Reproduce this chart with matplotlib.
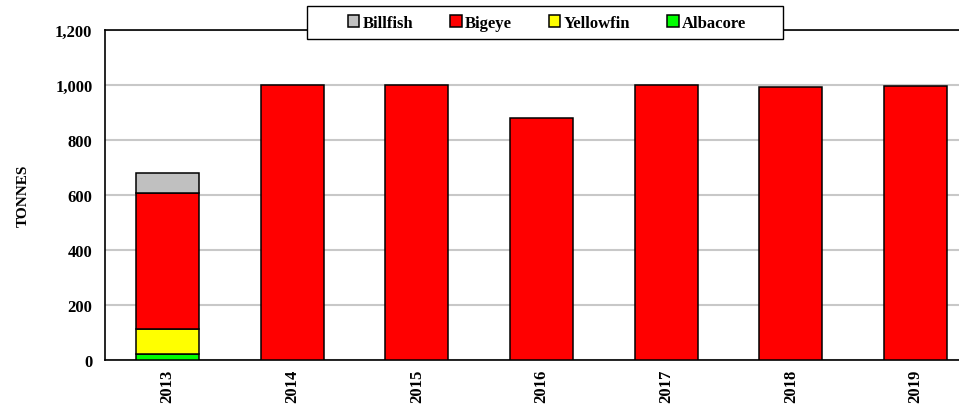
import matplotlib
matplotlib.use("Agg")
import matplotlib.pyplot as plt
from matplotlib.patches import Rectangle
import numpy as np

years = ["2013", "2014", "2015", "2016", "2017", "2018", "2019"]
albacore = [22, 0, 0, 0, 0, 0, 0]
yellowfin = [90, 0, 0, 0, 0, 0, 0]
bigeye = [496, 1000, 1000, 880, 1000, 993, 998]
billfish = [72, 0, 0, 0, 0, 0, 0]

series = [("Albacore", albacore, "#00ff00"),
          ("Yellowfin", yellowfin, "#ffff00"),
          ("Bigeye", bigeye, "#ff0000"),
          ("Billfish", billfish, "#c0c0c0")]

plt.rcParams['font.family'] = ['Liberation Serif', 'DejaVu Serif']
plt.rcParams['font.weight'] = 'bold'

fig = plt.figure(figsize=(9.59, 4.06), dpi=100)
ax = fig.add_axes([105/959, 45/406, 873/959, 330/406])

x = np.arange(len(years))
bottom = np.zeros(len(years))
handles = {}
for name, vals, col in series:
    v = np.array(vals, dtype=float)
    mask = v > 0
    h = ax.bar(x[mask], v[mask], width=0.505, bottom=bottom[mask], color=col,
               edgecolor='black', linewidth=1.1, zorder=3, label=name)
    handles[name] = h
    bottom += v

ax.set_xlim(-0.5, len(years) - 0.5)
ax.set_ylim(0, 1200)
ax.set_yticks(np.arange(0, 1201, 200))
ax.set_yticklabels([f"{int(t):,}" for t in np.arange(0, 1201, 200)], fontsize=12, fontweight='bold')
ax.set_xticks(x)
ax.set_xticklabels(years, rotation=90, fontsize=12, fontweight='bold')
ax.tick_params(axis='y', length=0, pad=9)
ax.tick_params(axis='x', length=0, pad=6)
ax.yaxis.grid(True, color='#c8c8c8', linewidth=1.5, zorder=0)
ax.set_axisbelow(True)
for s in ['left', 'bottom', 'top']:
    ax.spines[s].set_color('black')
    ax.spines[s].set_linewidth(1.2)
ax.spines['right'].set_visible(False)
ax.set_ylabel("TONNES", fontsize=11, fontweight='bold', labelpad=18)

# legend frame box
fig.patches.append(Rectangle((307/959, (406-40)/406), (783-307)/959, 33/406,
                             transform=fig.transFigure, facecolor='white',
                             edgecolor='black', linewidth=1.0, zorder=9))

order = ["Billfish", "Bigeye", "Yellowfin", "Albacore"]
leg = fig.legend([handles[n] for n in order], order, loc='center',
                 bbox_to_anchor=(547/959, (406-23.5)/406), ncol=4,
                 frameon=False,
                 handlelength=0.7, handleheight=0.7, handletextpad=0.2,
                 columnspacing=2.2, borderpad=0.3,
                 prop={'size': 12, 'weight': 'bold'})
leg.set_zorder(10)

fig.savefig("out.png", dpi=100)
